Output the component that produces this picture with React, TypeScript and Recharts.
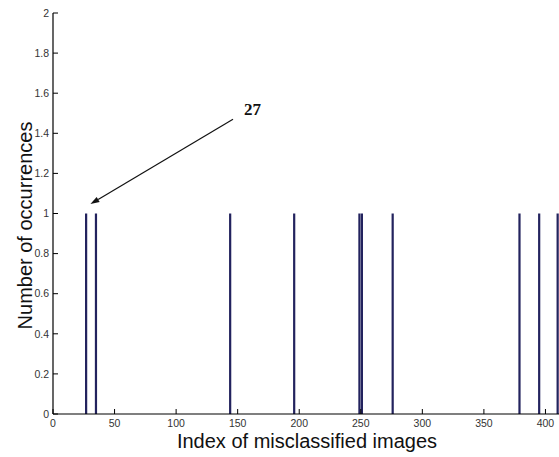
import * as React from "react";
import { BarChart, Bar, XAxis, YAxis, ReferenceLine, Label } from "recharts";

// Image indices that were misclassified, and how often each one occurred
const INDICES = [27, 35, 144, 196, 249, 251, 276, 379, 395, 410];
const COUNTS = [1, 1, 1, 1, 1, 1, 1, 1, 1, 1];

const X_TICKS = [0, 50, 100, 150, 200, 250, 300, 350, 400];
const Y_TICKS = [0, 0.2, 0.4, 0.6, 0.8, 1, 1.2, 1.4, 1.6, 1.8, 2];

// Annotation: arrow pointing at the first misclassified image
const NOTE_TEXT = "27";
const NOTE_FROM = { x: 146.2, y: 1.47 };
const NOTE_TO = { x: 30.4, y: 1.047 };

const BAR_COLOR = "#23235e";
const FONT = '"Liberation Sans", Arial, Helvetica, sans-serif';

const data = INDICES.map((idx, i) => ({ idx, count: COUNTS[i] }));

function Arrow(props: any) {
  const { x1, y1, x2, y2 } = props;
  const ang = Math.atan2(y2 - y1, x2 - x1);
  const len = 9;
  const half = 3;
  const cos = Math.cos(ang);
  const sin = Math.sin(ang);
  const bx = x2 - len * cos;
  const by = y2 - len * sin;
  return (
    <g>
      <line x1={x1} y1={y1} x2={bx} y2={by} stroke="#111" strokeWidth={1.2} />
      <polygon
        points={`${x2},${y2} ${bx - half * sin},${by + half * cos} ${bx + half * sin},${by - half * cos}`}
        fill="#111"
      />
      <text
        x={x1 + 11}
        y={y1 - 4}
        fontFamily='"Liberation Serif", "Times New Roman", serif'
        fontWeight="bold"
        fontSize={17}
        fill="#111"
      >
        {NOTE_TEXT}
      </text>
    </g>
  );
}

const fmtY = (v: number) => String(v);

export default function App() {
  return (
    <div style={{ position: "absolute", left: 0, top: 0, background: "#fff" }}>
      <BarChart
        width={559}
        height={457}
        data={data}
        margin={{ top: 13, right: 0, bottom: 0, left: 0 }}
      >
        <XAxis
          dataKey="idx"
          type="number"
          domain={[0, 411]}
          ticks={X_TICKS}
          interval={0}
          height={43}
          tickSize={-5}
          tickMargin={11}
          axisLine={{ stroke: "#000", strokeWidth: 1.2 }}
          tickLine={{ stroke: "#000" }}
          tick={{ fill: "#333", fontSize: 10.5, fontFamily: FONT }}
        >
          <Label
            content={({ viewBox }: any) => (
              <text
                x={viewBox.x + viewBox.width / 2 + 1}
                y={viewBox.y + 34}
                textAnchor="middle"
                fontFamily={FONT}
                fontSize={20}
                fill="#111"
              >
                Index of misclassified images
              </text>
            )}
          />
        </XAxis>
        <YAxis
          type="number"
          domain={[0, 2]}
          ticks={Y_TICKS}
          interval={0}
          width={53}
          tickSize={-5}
          tickMargin={9}
          tickFormatter={fmtY}
          axisLine={{ stroke: "#000", strokeWidth: 1.2 }}
          tickLine={{ stroke: "#000" }}
          tick={{ fill: "#333", fontSize: 10.5, fontFamily: FONT }}
        >
          <Label
            content={({ viewBox }: any) => (
              <text
                transform={`translate(${viewBox.x + 32},${viewBox.y + viewBox.height / 2 + 12}) rotate(-90)`}
                x={0}
                y={0}
                textAnchor="middle"
                fontFamily={FONT}
                fontSize={20}
                fill="#111"
              >
                Number of occurrences
              </text>
            )}
          />
        </YAxis>
        <Bar dataKey="count" fill={BAR_COLOR} barSize={3} isAnimationActive={false} />
        <ReferenceLine
          segment={[NOTE_FROM, NOTE_TO]}
          ifOverflow="visible"
          shape={(p: any) => <Arrow {...p} />}
        />
      </BarChart>
    </div>
  );
}
